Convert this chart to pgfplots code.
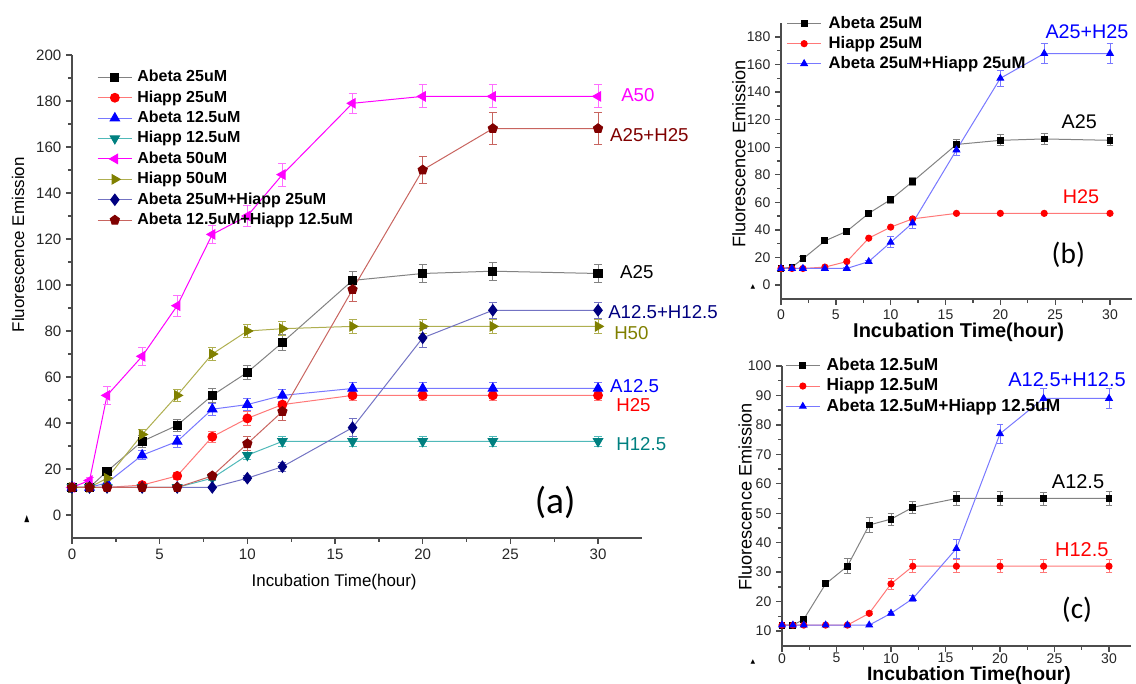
\documentclass[border=0pt]{standalone}
\usepackage{fontspec}
\setmainfont{Liberation Sans}
\newfontfamily\calib{Carlito}
\newfontfamily\dejavu{DejaVu Sans}
\usepackage{pgfplots}
\pgfplotsset{compat=1.18}

\definecolor{lgray}{RGB}{130,130,130}
\definecolor{lred}{RGB}{255,120,120}
\definecolor{lblue}{RGB}{120,120,255}
\definecolor{tealm}{RGB}{0,128,128}
\definecolor{teall}{RGB}{80,185,185}
\definecolor{magm}{RGB}{255,0,255}
\definecolor{magl}{RGB}{255,110,255}
\definecolor{olivem}{RGB}{128,128,0}
\definecolor{olivel}{RGB}{175,175,80}
\definecolor{navym}{RGB}{0,0,128}
\definecolor{navyl}{RGB}{115,115,195}
\definecolor{dredm}{RGB}{128,0,0}
\definecolor{dredl}{RGB}{200,100,95}

\pgfplotsset{
  originax/.style={
    scale only axis, clip=false,
    axis x line*=bottom, axis y line*=left,
    axis line style={-, line width=1.3pt, black!70},
    tick align=outside,
    major tick length=4.5pt, minor tick length=3pt,
    tick style={black!70, line width=1pt},
    minor x tick num=1, minor y tick num=1,
    /pgf/number format/assume math mode=true,
    xtick={0,5,...,30},
    legend cell align=left,
  },
  ebar/.style 2 args={
    error bars/.cd, y dir=both, y explicit,
    error bar style={color=#1, line width=0.6pt},
    error mark options={rotate=90, color=#1, mark size=#2, line width=0.6pt},
  },
  legimg/.style={
    legend image code/.code={
      \draw[mark repeat=2, mark phase=2, ##1]
        plot coordinates {(0pt,0pt) (#1/2,0pt) (#1,0pt)};}
  },
}

\begin{document}
\begin{tikzpicture}
\useasboundingbox (0,0) rectangle (852pt,513pt);

% ---------------- panel (a)
\begin{axis}[
  originax,
  at={(54pt,109.5pt)}, anchor=south west,
  width=427.4pt, height=362.25pt,
  xmin=0, xmax=32.5, ymin=-10, ymax=200,
  ytick={0,20,...,200},
  tick label style={font=\fontsize{11.3}{13}\selectfont, text=black!85},
  xlabel={Incubation Time(hour)},
  ylabel={Fluorescence Emission},
  label style={font=\fontsize{12.7}{14}\selectfont},
  xlabel style={at={(axis description cs:0.46,-0.091)}, anchor=center},
  ylabel style={at={(axis description cs:-0.0947,0.607)}, anchor=center},
  legimg=26pt,
  legend style={at={(0.0439,0.971)}, anchor=north west, draw=none, fill=none,
    inner sep=0pt, outer sep=0pt, row sep=2.8pt,
    font=\fontsize{12}{14}\selectfont\bfseries,
    nodes={inner sep=0.5pt, text height=9pt, text depth=2.5pt},
    /tikz/every odd column/.append style={column sep=3pt}},
]

\addplot[lgray, line width=0.75pt, mark=square*, mark size=3.1pt,
  mark options={black, fill=black}, ebar={lgray}{3pt}]
  table[x=x, y=y, y error=e] {
x y e
0 12 1
1 12 1
2 19 1.5
4 32 2.5
6 39 2.5
8 52 3
10 62 3
12 75 3.5
16 102 4
20 105 4
24 106 4
30 105 4
};
\addlegendentry{Abeta 25uM}

\addplot[lred, line width=0.75pt, mark=*, mark size=3.3pt,
  mark options={red, fill=red}, ebar={lred}{3pt}]
  table[x=x, y=y, y error=e] {
x y e
0 12 0.5
1 12 0.5
2 12 0.5
4 13 1
6 17 1.5
8 34 2.5
10 42 3
12 48 3
16 52 2
20 52 2
24 52 2
30 52 2
};
\addlegendentry{Hiapp 25uM}

\addplot[lblue, line width=0.75pt, mark=triangle*, mark size=4pt,
  mark options={blue, fill=blue}, ebar={lblue}{3pt}]
  table[x=x, y=y, y error=e] {
x y e
0 12 0.5
1 12 0.5
2 14 1
4 26 2
6 32 2.5
8 46 2.5
10 48 2.5
12 52 2.5
16 55 2.5
20 55 2.5
24 55 2.5
30 55 2.5
};
\addlegendentry{Abeta 12.5uM}

\addplot[teall, line width=0.75pt, mark=triangle*, mark size=4pt,
  mark options={tealm, fill=tealm, rotate=180}, ebar={teall}{3pt}]
  table[x=x, y=y, y error=e] {
x y e
0 12 0.5
1 12 0.5
2 12 0.5
4 12 0.5
6 12 0.5
8 16 1
10 26 2
12 32 2
16 32 2
20 32 2
24 32 2
30 32 2
};
\addlegendentry{Hiapp 12.5uM}

\addplot[magm, line width=0.75pt, mark=triangle*, mark size=4pt,
  mark options={magm, fill=magm, rotate=90}, ebar={magl}{3pt}]
  table[x=x, y=y, y error=e] {
x y e
0 12 1
1 15 1.5
2 52 4
4 69 4
6 91 4.5
8 122 4
10 130 4.5
12 148 5
16 179 4.5
20 182 5
24 182 5
30 182 5
};
\addlegendentry{Abeta 50uM}

\addplot[olivel, line width=0.75pt, mark=triangle*, mark size=4pt,
  mark options={olivem, fill=olivem, rotate=-90}, ebar={olivel}{3pt}]
  table[x=x, y=y, y error=e] {
x y e
0 12 0.5
1 12 0.5
2 16 1
4 35 2
6 52 2.5
8 70 3
10 80 3
12 81 3
16 82 3
20 82 3
24 82 3
30 82 3
};
\addlegendentry{Hiapp 50uM}

\addplot[navyl, line width=0.75pt, mark=diamond*, mark size=4.2pt,
  mark options={navym, fill=navym}, ebar={navyl}{3pt}]
  table[x=x, y=y, y error=e] {
x y e
0 12 0.5
1 12 0.5
2 12 0.5
4 12 0.5
6 12 0.5
8 12 0.5
10 16 1
12 21 2
16 38 4
20 77 4
24 89 3.5
30 89 3.5
};
\addlegendentry{Abeta 25uM+Hiapp 25uM}

\addplot[dredl, line width=0.75pt, mark=pentagon*, mark size=3.6pt,
  mark options={dredm, fill=dredm}, ebar={dredl}{3pt}]
  table[x=x, y=y, y error=e] {
x y e
0 12 0.5
1 12 0.5
2 12 0.5
4 12 0.5
6 12 0.5
8 17 1
10 31 3
12 45 4
16 98 5
20 150 6
24 168 7
30 168 7
};
\addlegendentry{Abeta 12.5uM+Hiapp 12.5uM}

\begin{scope}[every node/.style={anchor=west, inner sep=0pt, font=\fontsize{14}{14}\selectfont}]
\node[text=magm]   at (axis cs:31.31,182.4) {A50};
\node[text=dredm]  at (axis cs:30.68,165.2) {A25+H25};
\node[text=black]  at (axis cs:31.25,105.4) {A25};
\node[text=navym]  at (axis cs:30.57,88.3)  {A12.5+H12.5};
\node[text=olivem] at (axis cs:30.91,79.1)  {H50};
\node[text=blue]   at (axis cs:30.68,56.1)  {A12.5};
\node[text=red]    at (axis cs:31.03,47.8)  {H25};
\node[text=tealm]  at (axis cs:31.03,30.9)  {H12.5};
\end{scope}
\node[font=\calib\fontsize{28}{28}\selectfont] at (axis cs:27.55,5.6) {(a)};
\node[font=\dejavu\fontsize{7}{7}\selectfont, xscale=0.7, inner sep=0pt] at (axis cs:-2.57,-1.7) {▲};
\end{axis}

% ---------------- panel (b)
\begin{axis}[
  originax,
  at={(585.75pt,288.9pt)}, anchor=south west,
  width=263.2pt, height=206.7pt,
  xmin=0, xmax=32, ymin=-10, ymax=190,
  ytick={0,20,...,180},
  tick label style={font=\fontsize{10.5}{12}\selectfont, text=black!85},
  xlabel={Incubation Time(hour)},
  ylabel={Fluorescence Emission},
  xlabel style={font=\fontsize{15}{16}\selectfont\bfseries,
    at={(axis description cs:0.506,-0.122)}, anchor=center},
  ylabel style={font=\fontsize{13.6}{15}\selectfont,
    at={(axis description cs:-0.1197,0.525)}, anchor=center},
  legimg=25pt,
  legend style={at={(0.017,1.0297)}, anchor=north west, draw=none, fill=none,
    inner sep=0pt, outer sep=0pt, row sep=2pt,
    font=\fontsize{12.5}{14}\selectfont\bfseries,
    nodes={inner sep=0.5pt, text height=9.5pt, text depth=2.5pt},
    /tikz/every odd column/.append style={column sep=5pt}},
]
\addplot[lgray, line width=0.75pt, mark=square*, mark size=2.2pt,
  mark options={black, fill=black}, ebar={lgray}{2.6pt}]
  table[x=x, y=y, y error=e] {
x y e
0 12 1
1 13 1
2 19 1.5
4 32 1.5
6 39 2
8 52 2
10 62 2.5
12 75 3
16 102 4
20 105 4
24 106 4
30 105 4
};
\addlegendentry{Abeta 25uM}

\addplot[lred, line width=0.75pt, mark=*, mark size=2.3pt,
  mark options={red, fill=red}]
  table[x=x, y=y] {
x y
0 12
1 12
2 12
4 13
6 17
8 34
10 42
12 48
16 52
20 52
24 52
30 52
};
\addlegendentry{Hiapp 25uM}

\addplot[lblue, line width=0.75pt, mark=triangle*, mark size=2.8pt,
  mark options={blue, fill=blue}, ebar={lblue}{2.6pt}]
  table[x=x, y=y, y error=e] {
x y e
0 12 0.5
1 12 0.5
2 12 0.5
4 12 0.5
6 12 0.5
8 17 1
10 31 4
12 45 4
16 98 4
20 150 6
24 168 7
30 168 7
};
\addlegendentry{Abeta 25uM+Hiapp 25uM}

\begin{scope}[every node/.style={anchor=center, inner sep=0pt, font=\fontsize{14.8}{15}\selectfont}]
\node[text=blue]  at (axis cs:27.9,183.6) {A25+H25};
\node[text=black] at (axis cs:27.2,118.3) {A25};
\node[text=red]   at (axis cs:27.35,63.9) {H25};
\end{scope}
\node[font=\calib\fontsize{22}{22}\selectfont] at (axis cs:26.2,21.8) {(b)};
\node[font=\dejavu\fontsize{4.5}{5}\selectfont, inner sep=0pt] at (axis cs:-2.55,-1.5) {▲};
\end{axis}

% ---------------- panel (c)
\begin{axis}[
  originax,
  at={(586.5pt,28.7pt)}, anchor=south west,
  width=261.6pt, height=209.8pt,
  xmin=0, xmax=32, ymin=5, ymax=100,
  ytick={10,20,...,100},
  tick label style={font=\fontsize{10.5}{12}\selectfont, text=black!85},
  xticklabel style={inner sep=1pt},
  xlabel={Incubation Time(hour)},
  ylabel={Fluorescence Emission},
  xlabel style={font=\fontsize{14.5}{16}\selectfont\bfseries, inner sep=0pt,
    at={(axis description cs:0.536,-0.108)}, anchor=center},
  ylabel style={font=\fontsize{13.6}{15}\selectfont,
    at={(axis description cs:-0.106,0.532)}, anchor=center},
  legimg=26pt,
  legend style={at={(0.0086,1.032)}, anchor=north west, draw=none, fill=none,
    inner sep=0pt, outer sep=0pt, row sep=2.25pt,
    font=\fontsize{13}{14}\selectfont\bfseries,
    nodes={inner sep=0.5pt, text height=9.5pt, text depth=2.5pt},
    /tikz/every odd column/.append style={column sep=4pt}},
]
\addplot[lgray, line width=0.75pt, mark=square*, mark size=2.2pt,
  mark options={black, fill=black}, ebar={lgray}{2.6pt}]
  table[x=x, y=y, y error=e] {
x y e
0 12 0.3
1 12 0.3
2 14 0.5
4 26 1
6 32 2.5
8 46 2.5
10 48 2
12 52 2
16 55 2.5
20 55 2.5
24 55 2.2
30 55 2.5
};
\addlegendentry{Abeta 12.5uM}

\addplot[lred, line width=0.75pt, mark=*, mark size=2.3pt,
  mark options={red, fill=red}, ebar={lred}{2.6pt}]
  table[x=x, y=y, y error=e] {
x y e
0 12 0.3
1 12 0.3
2 12 0.3
4 12 0.3
6 12 0.3
8 16 0.5
10 26 1.8
12 32 2.2
16 32 2.2
20 32 2.2
24 32 2.2
30 32 2.2
};
\addlegendentry{Hiapp 12.5uM}

\addplot[lblue, line width=0.75pt, mark=triangle*, mark size=2.8pt,
  mark options={blue, fill=blue}, ebar={lblue}{2.6pt}]
  table[x=x, y=y, y error=e] {
x y e
0 12 0.3
1 12 0.3
2 12 0.3
4 12 0.3
6 12 0.3
8 12 0.3
10 16 0.8
12 21 1
16 38 3.2
20 77 3.3
24 89 3.5
30 89 3.5
};
\addlegendentry{Abeta 12.5uM+Hiapp 12.5uM}

\begin{scope}[every node/.style={anchor=center, inner sep=0pt, font=\fontsize{15}{15}\selectfont}]
\node[text=blue]  at (axis cs:26.15,95.3) {A12.5+H12.5};
\node[text=black] at (axis cs:27.16,60.6) {A12.5};
\node[text=red]   at (axis cs:27.5,37.5)  {H12.5};
\end{scope}
\node[font=\calib\fontsize{22}{22}\selectfont] at (axis cs:27.06,17.1) {(c)};
\node[font=\dejavu\fontsize{4.5}{5}\selectfont, inner sep=0pt] at (axis cs:-2.66,-0.53) {▲};
\end{axis}

\end{tikzpicture}
\end{document}
